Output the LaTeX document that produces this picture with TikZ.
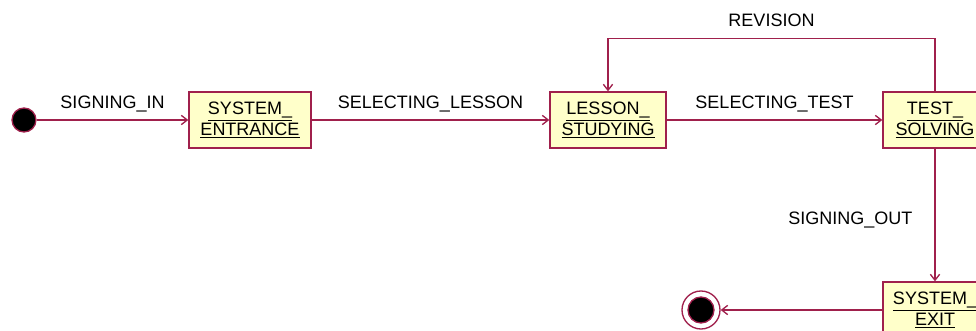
\documentclass[tikz,border=0pt]{standalone}
\usepackage{fontspec}
\setmainfont{Liberation Sans}
\usetikzlibrary{arrows.meta}

\definecolor{roseline}{HTML}{A0204C}
\definecolor{rosefill}{HTML}{FFFFCA}
\newcommand{\statefont}{\fontsize{13.5}{15.75}\selectfont}

\begin{document}
\begin{tikzpicture}[x=0.75pt, y=-0.75pt, line width=1pt,
    statebox/.style={draw=roseline, fill=rosefill, minimum height=42pt, inner sep=0pt, align=center, font=\statefont},
    trans/.style={draw=roseline, -{Straight Barb[length=4.5pt, width=7pt]}},
    lbl/.style={font=\statefont, inner sep=0pt, text height=9.6pt, text depth=0pt}]

        % Frame
        \useasboundingbox (0,0) rectangle (976,331);
        \clip (0,0) rectangle (976,331);

        % States
        \node[circle, draw=roseline, fill=black, minimum size=18pt, inner sep=0pt] (init) at (24,120) {};
        \node[statebox, minimum width=91.5pt] (entrance) at (250,120) {\underline{SYSTEM\_}\\\underline{ENTRANCE}};
        \node[statebox, minimum width=87pt] (lesson) at (608,120) {\underline{LESSON\_}\\\underline{STUDYING}};
        \node[statebox, minimum width=78pt] (test) at (935,120) {\underline{TEST\_}\\\underline{SOLVING}};
        \node[statebox, minimum width=78pt] (exit) at (935,310) {\underline{SYSTEM\_}\\\underline{EXIT}};
        \node[circle, draw=roseline, minimum size=28.5pt, inner sep=0pt] (final) at (701,310) {};
        \node[circle, draw=roseline, fill=black, minimum size=19.5pt, inner sep=0pt] (finaldot) at (final.center) {};

        % Transitions
        \draw[trans] (init) -- (entrance) node[lbl, midway, above=8.25pt] {SIGNING\_IN};
        \draw[trans] (entrance) -- (lesson) node[lbl, midway, above=8.25pt] {SELECTING\_LESSON};
        \draw[trans] (lesson) -- (test) node[lbl, midway, above=8.25pt] {SELECTING\_TEST};
        \draw[trans] (test.north) -- ++(0,-53) -| (lesson.north) node[lbl, pos=0.25, above=8.25pt] {REVISION};
        \draw[trans] (test) -- (exit) node[lbl, pos=0.526, left=16.5pt] {SIGNING\_OUT};
        \draw[trans] (exit) -- (final);

    \end{tikzpicture}
\end{document}
